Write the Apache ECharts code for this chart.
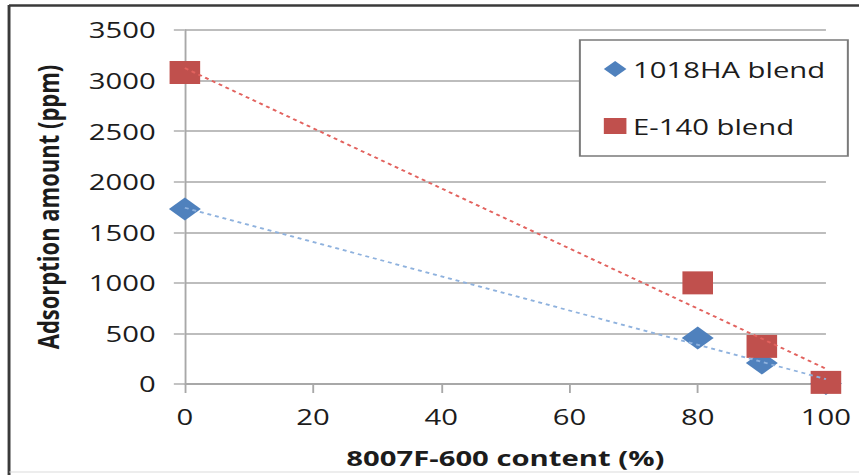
<!DOCTYPE html>
<html>
<head>
<meta charset="utf-8">
<script src="https://cdn.jsdelivr.net/npm/echarts@6/dist/echarts.min.js"></script>
<style>
  html, body { width: 859px; height: 475px; margin: 0; background: #fff; overflow: hidden; }
  /* the reference picture is stretched sideways, so the chart is drawn narrow and widened */
  #main { width: 646px; height: 475px; transform: scaleX(1.33); transform-origin: 0 0; }
</style>
</head>
<body>
<div id="main"></div>
<script>
var content = [0, 80, 90, 100];
var ha1018 = [1730, 455, 207, 5];
var e140 = [3080, 1000, 372, 16];
var xTicks = [0, 20, 40, 60, 80, 100];
var yTicks = [0, 500, 1000, 1500, 2000, 2500, 3000, 3500];

// least squares trendline, like the Excel linear trendline
function trend(xs, ys) {
  var n = xs.length, mx = 0, my = 0;
  xs.forEach(function (x, i) { mx += x; my += ys[i]; });
  mx /= n; my /= n;
  var sxy = 0, sxx = 0;
  xs.forEach(function (x, i) { sxy += (x - mx) * (ys[i] - my); sxx += (x - mx) * (x - mx); });
  var k = sxy / sxx, b = my - k * mx;
  var x0 = xs[0], x1 = xs[n - 1];
  return [[x0, k * x0 + b], [x1, k * x1 + b]];
}

function pairs(xs, ys) {
  return xs.map(function (x, i) { return [x, ys[i]]; });
}

var font = '"Open Sans", "DejaVu Sans", sans-serif';
var ink = '#1c1c1c';
var chart = echarts.init(document.getElementById('main'), null, { renderer: 'svg' });

chart.setOption({
  animation: false,
  backgroundColor: '#fff',
  grid: { left: 139, right: 25, top: 30, bottom: 91 },
  graphic: [
    { type: 'line', shape: { x1: 6.8, y1: 5.5, x2: 646, y2: 5.5 }, style: { stroke: '#3a3a3a', lineWidth: 2.5 } },
    { type: 'line', shape: { x1: 6.8, y1: 5, x2: 6.8, y2: 475 }, style: { stroke: '#3a3a3a', lineWidth: 2.2 } },
    { type: 'line', shape: { x1: 7, y1: 472, x2: 646, y2: 472 }, style: { stroke: '#dcdcdc', lineWidth: 1 } }
  ],
  legend: {
    orient: 'vertical',
    left: 436,
    top: 40,
    padding: [17, 17, 18, 18],
    itemGap: 33,
    itemWidth: 17,
    itemHeight: 16,
    backgroundColor: '#fff',
    borderColor: '#7a7a7a',
    borderWidth: 1.5,
    textStyle: { fontFamily: font, fontSize: 22, lineHeight: 24, color: ink },
    data: [
      { name: '1018HA blend', icon: 'diamond' },
      { name: 'E-140 blend', icon: 'rect' }
    ]
  },
  xAxis: {
    type: 'value',
    min: 0, max: 100, interval: 20,
    name: '8007F-600 content (%)',
    nameLocation: 'middle',
    nameGap: 62,
    nameTextStyle: { fontFamily: font, fontSize: 22, fontWeight: 'bold', color: ink },
    axisLine: { show: true, onZero: false, lineStyle: { color: '#a8a8a8', width: 1.8 } },
    axisTick: { show: true, length: 9, lineStyle: { color: '#a8a8a8', width: 1.4 } },
    axisLabel: {
      fontFamily: font, fontSize: 22, color: ink, margin: 21,
      formatter: function (v) { return xTicks.indexOf(v) >= 0 ? String(v) : ''; }
    },
    splitLine: { show: false }
  },
  yAxis: {
    type: 'value',
    min: 0, max: 3500, interval: 500,
    name: 'Adsorption amount (ppm)',
    nameLocation: 'middle',
    nameGap: 92,
    nameTextStyle: { fontFamily: font, fontSize: 22, fontWeight: 'bold', color: ink },
    axisLine: { show: true, lineStyle: { color: '#a8a8a8', width: 1.4 } },
    axisTick: { show: true, length: 8.3, lineStyle: { color: '#bdbdbd', width: 1.8 } },
    axisLabel: {
      fontFamily: font, fontSize: 22, color: ink, margin: 22,
      formatter: function (v) { return yTicks.indexOf(v) >= 0 ? String(v) : ''; }
    },
    splitLine: { show: true, lineStyle: { color: '#bdbdbd', width: 1.8 } }
  },
  series: [
    {
      name: '1018HA blend',
      type: 'scatter',
      symbol: 'diamond',
      symbolSize: [24, 23],
      itemStyle: { color: '#4f81bd', opacity: 1 },
      data: pairs(content, ha1018),
      z: 3
    },
    {
      name: 'E-140 blend',
      type: 'scatter',
      symbol: 'rect',
      symbolSize: [23, 23],
      itemStyle: { color: '#c0504d', opacity: 1 },
      data: pairs(content, e140),
      z: 4
    },
    {
      type: 'line',
      data: trend(content, ha1018),
      symbol: 'none',
      silent: true,
      lineStyle: { color: '#8fb2de', width: 1.8, type: [3, 3] },
      z: 5
    },
    {
      type: 'line',
      data: trend(content, e140),
      symbol: 'none',
      silent: true,
      lineStyle: { color: '#e2625e', width: 1.8, type: [3, 3] },
      z: 6
    }
  ]
});
</script>
</body>
</html>
